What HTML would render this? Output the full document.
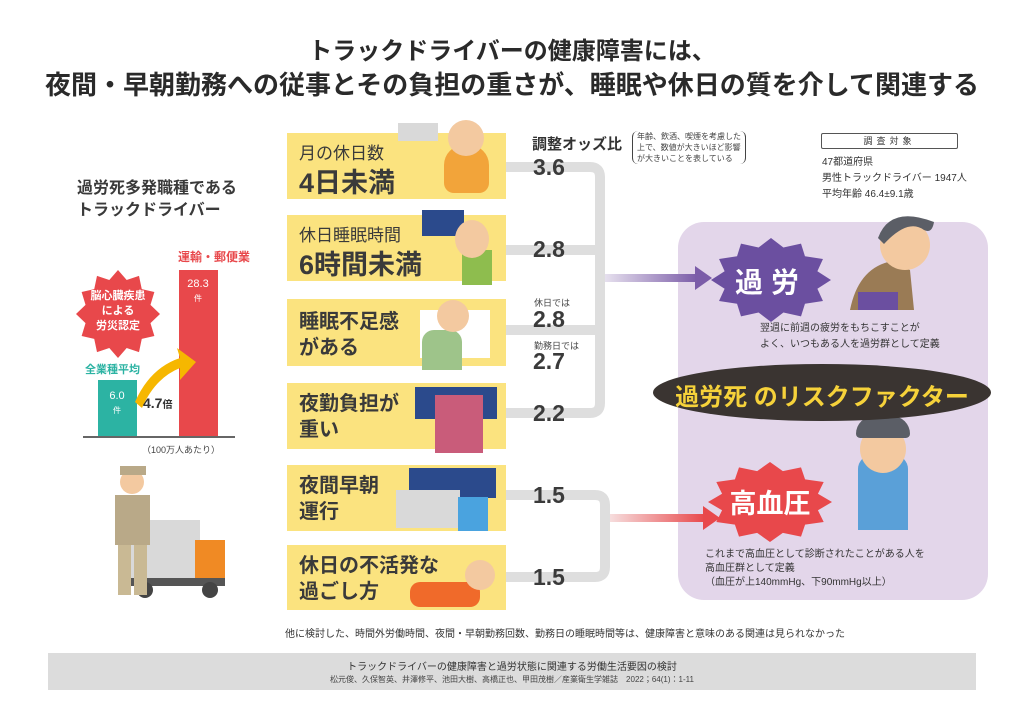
<!DOCTYPE html>
<html><head><meta charset="utf-8"><style>
*{margin:0;padding:0;box-sizing:border-box}
body{width:1024px;height:724px;background:#fff;position:relative;overflow:hidden;font-family:"Liberation Sans","Noto Sans CJK JP",sans-serif;color:#333}
.a{position:absolute;white-space:nowrap}
.b{font-weight:bold}
.yb{position:absolute;left:287px;width:219px;background:#fbe37f}
.yb div{position:absolute;left:12px;font-weight:bold;color:#3a3a3a}
.num{position:absolute;left:533px;font-weight:bold;font-size:23px;color:#3a3a3a;line-height:1}
.sm{position:absolute;left:534px;font-size:9px;color:#444}
</style></head><body>
<svg width="0" height="0" style="position:absolute"><defs>
<polygon id="st" points="1,0 .773,.207 .866,.5 .566,.566 .5,.866 .207,.773 0,1 -.207,.773 -.5,.866 -.566,.566 -.866,.5 -.773,.207 -1,0 -.773,-.207 -.866,-.5 -.566,-.566 -.5,-.866 -.207,-.773 0,-1 .207,-.773 .5,-.866 .566,-.566 .866,-.5 .773,-.207"/>
</defs></svg>
<div class="a b" style="left:0;width:1024px;text-align:center;top:31px;font-size:24px;color:#2a2a2a">トラックドライバーの健康障害には、</div>
<div class="a b" style="left:0;width:1024px;text-align:center;top:65px;font-size:26px;color:#2a2a2a">夜間・早朝勤務への従事とその負担の重さが、睡眠や休日の質を介して関連する</div>

<!-- left chart -->
<div class="a b" style="left:77px;top:178px;font-size:16px;line-height:22px;color:#3a3a3a">過労死多発職種である<br>トラックドライバー</div>
<svg class="a" style="left:40px;top:240px" width="240" height="220">
<use href="#st" fill="#e8484b" transform="translate(78,74) scale(42,44)"/>
<text x="78" y="59" text-anchor="middle" fill="#fff" font-size="11" font-weight="bold">脳心臓疾患</text>
<text x="78" y="74" text-anchor="middle" fill="#fff" font-size="11" font-weight="bold">による</text>
<text x="78" y="89" text-anchor="middle" fill="#fff" font-size="11" font-weight="bold">労災認定</text>
<rect x="58" y="140" width="39" height="56" fill="#2cb3a3"/>
<rect x="139" y="30" width="39" height="166" fill="#e8484b"/>
<line x1="43" y1="197" x2="195" y2="197" stroke="#333" stroke-width="1.5"/>
<path d="M95,162 Q110,128 140,118 L137,108 L156,122 L140,140 L140,128 Q115,138 102,168 Z" fill="#f6b700"/>
<text x="77" y="159" text-anchor="middle" fill="#fff" font-size="11">6.0</text>
<text x="77" y="173" text-anchor="middle" fill="#fff" font-size="8">件</text>
<text x="158" y="47" text-anchor="middle" fill="#fff" font-size="11">28.3</text>
<text x="158" y="61" text-anchor="middle" fill="#fff" font-size="8">件</text>
<text x="103" y="168" fill="#333" font-size="14" font-weight="bold">4.7<tspan font-size="10">倍</tspan></text>
<text x="45" y="133" fill="#2cb3a3" font-size="11" font-weight="bold">全業種平均</text>
<text x="138" y="21" fill="#e8484b" font-size="12" font-weight="bold">運輸・郵便業</text>
<text x="102" y="213" fill="#444" font-size="9">（100万人あたり）</text>
</svg>
<!-- truck + man -->
<svg class="a" style="left:100px;top:460px" width="130" height="150">
<rect x="30" y="60" width="70" height="60" fill="#d9d9d9"/>
<rect x="95" y="80" width="30" height="40" fill="#f08a24"/>
<rect x="30" y="118" width="95" height="8" fill="#555"/>
<circle cx="45" cy="130" r="8" fill="#444"/><circle cx="110" cy="130" r="8" fill="#444"/>
<rect x="15" y="35" width="35" height="50" fill="#b9a988"/>
<circle cx="32" cy="22" r="12" fill="#f3c9a0"/>
<rect x="20" y="6" width="26" height="9" fill="#b9a988"/>
<rect x="18" y="85" width="13" height="50" fill="#c9b994"/><rect x="34" y="85" width="13" height="50" fill="#c9b994"/>
</svg>

<!-- purple panel -->
<div class="a" style="left:678px;top:222px;width:310px;height:378px;background:#e3d6ea;border-radius:26px"></div>

<!-- connectors -->
<svg class="a" style="left:500px;top:150px" width="230" height="450">
<g fill="none" stroke="#dedede" stroke-width="10">
<path d="M6,17 H90 Q100,17 100,27 V253 Q100,263 90,263 H6"/>
<path d="M6,100 H100"/><path d="M6,180 H100"/>
<path d="M6,345 H95 Q105,345 105,355 V417 Q105,427 95,427 H6"/>
</g>
<defs><linearGradient id="gp"><stop offset="0" stop-color="#e6e0ee"/><stop offset="1" stop-color="#7b5ca8"/></linearGradient>
<linearGradient id="gr"><stop offset="0" stop-color="#f6dddd"/><stop offset="1" stop-color="#e8484b"/></linearGradient></defs>
<rect x="105" y="124" width="92" height="8" fill="url(#gp)"/><polygon points="195,116 212,128 195,140" fill="#7b5ca8"/>
<rect x="110" y="364" width="95" height="8" fill="url(#gr)"/><polygon points="203,356 220,368 203,380" fill="#e8484b"/>
</svg>

<svg class="a" style="left:678px;top:200px" width="320" height="360">
<use href="#st" fill="#6b4fa0" transform="translate(93,80) scale(60,42)"/>
<text x="93" y="92" text-anchor="middle" fill="#fff" font-size="28" font-weight="bold" letter-spacing="8">過労</text>
<path d="M172,110 Q180,70 210,62 L232,70 L236,110 Z" fill="#9a7b55"/>
<rect x="180" y="92" width="40" height="18" fill="#6b4fa0"/>
<circle cx="227" cy="45" r="25" fill="#f3c9a0"/>
<path d="M200,38 Q212,5 256,22 Q254,34 246,30 Q230,18 206,44Z" fill="#5b5e66"/>
<use href="#st" fill="#e8484b" transform="translate(92,302) scale(62,40)"/>
<text x="92" y="313" text-anchor="middle" fill="#fff" font-size="27" font-weight="bold">高血圧</text>
</svg>
<div class="a" style="left:858px;top:455px;width:50px;height:75px;background:#5aa0d8;border-radius:14px 14px 0 0"></div>
<div class="a" style="left:860px;top:425px;width:46px;height:48px;background:#f3c9a0;border-radius:50%"></div>
<div class="a" style="left:856px;top:416px;width:54px;height:22px;background:#5b5e66;border-radius:26px 26px 6px 6px"></div>
<div class="a" style="left:760px;top:321px;font-size:10px;line-height:16px;color:#333">翌週に前週の疲労をもちこすことが<br>よく、いつもある人を過労群として定義</div>
<div class="a" style="left:705px;top:548px;font-size:10px;line-height:14px;color:#333">これまで高血圧として診断されたことがある人を<br>高血圧群として定義<br>（血圧が上140mmHg、下90mmHg以上）</div>
<div class="a" style="left:653px;top:364px;width:338px;height:57px;background:#3a3431;border-radius:50%"></div>
<div class="a b" style="left:653px;top:377px;width:338px;text-align:center;font-size:24px;color:#f6d23a">過労死 のリスクファクター</div>

<!-- yellow boxes -->
<div class="yb" style="top:133px;height:66px"><div style="top:6px;font-size:17px;font-weight:normal">月の休日数</div><div style="top:28px;font-size:27px">4日未満</div></div>
<div class="yb" style="top:215px;height:66px"><div style="top:6px;font-size:17px;font-weight:normal">休日睡眠時間</div><div style="top:28px;font-size:27px">6時間未満</div></div>
<div class="yb" style="top:299px;height:67px"><div style="top:10px;font-size:20px;line-height:26px">睡眠不足感<br>がある</div></div>
<div class="yb" style="top:383px;height:66px"><div style="top:8px;font-size:20px;line-height:26px">夜勤負担が<br>重い</div></div>
<div class="yb" style="top:465px;height:66px"><div style="top:8px;font-size:20px;line-height:26px">夜間早朝<br>運行</div></div>
<div class="yb" style="top:545px;height:65px"><div style="top:8px;font-size:20px;line-height:26px">休日の不活発な<br>過ごし方</div></div>
<!-- illustrations simple -->
<div class="a" style="left:444px;top:145px;width:45px;height:48px;background:#f2a43a;border-radius:20px 20px 10px 10px"></div>
<div class="a" style="left:448px;top:120px;width:36px;height:36px;background:#f3c9a0;border-radius:50%"></div>
<div class="a" style="left:398px;top:123px;width:40px;height:18px;background:#d9d9d9"></div>
<div class="a" style="left:422px;top:210px;width:42px;height:26px;background:#2b4a8c"></div>
<div class="a" style="left:462px;top:250px;width:30px;height:35px;background:#8ebd4e"></div>
<div class="a" style="left:455px;top:220px;width:34px;height:38px;background:#f3c9a0;border-radius:50%"></div>
<div class="a" style="left:420px;top:310px;width:70px;height:48px;background:#fff"></div>
<div class="a" style="left:422px;top:330px;width:40px;height:40px;background:#9ec48a;border-radius:12px 12px 0 0"></div>
<div class="a" style="left:437px;top:300px;width:32px;height:32px;background:#f3c9a0;border-radius:50%"></div>
<div class="a" style="left:415px;top:387px;width:82px;height:32px;background:#2b4a8c"></div>
<div class="a" style="left:435px;top:395px;width:48px;height:58px;background:#c95c7a"></div>
<div class="a" style="left:409px;top:468px;width:87px;height:30px;background:#2b4a8c"></div>
<div class="a" style="left:396px;top:490px;width:64px;height:38px;background:#d9d9d9"></div>
<div class="a" style="left:458px;top:497px;width:30px;height:34px;background:#4aa3df"></div>
<div class="a" style="left:410px;top:582px;width:70px;height:25px;background:#f06a2a;border-radius:10px"></div>
<div class="a" style="left:465px;top:560px;width:30px;height:30px;background:#f3c9a0;border-radius:50%"></div>

<!-- numbers -->
<div class="a b" style="left:532px;top:133px;font-size:15px;color:#333">調整オッズ比</div>
<div class="a" style="left:632px;top:131px;font-size:8px;line-height:11px;color:#444;border-left:1.5px solid #444;border-right:1.5px solid #444;border-radius:6px;padding:0 4px">年齢、飲酒、喫煙を考慮した<br>上で、数値が大きいほど影響<br>が大きいことを表している</div>
<div class="num" style="top:156px">3.6</div>
<div class="num" style="top:238px">2.8</div>
<div class="sm" style="top:296px">休日では</div>
<div class="num" style="top:308px">2.8</div>
<div class="sm" style="top:339px">勤務日では</div>
<div class="num" style="top:350px">2.7</div>
<div class="num" style="top:402px">2.2</div>
<div class="num" style="top:484px">1.5</div>
<div class="num" style="top:566px">1.5</div>

<!-- survey -->
<div class="a" style="left:821px;top:133px;width:137px;height:16px;border:1px solid #555;border-radius:2px;font-size:9px;text-align:center;line-height:14px;letter-spacing:4px">調査対象</div>
<div class="a" style="left:822px;top:155px;font-size:10px;line-height:16px;color:#333">47都道府県<br>男性トラックドライバー 1947人<br>平均年齢 46.4±9.1歳</div>

<div class="a" style="left:285px;top:625px;font-size:10px;color:#333">他に検討した、時間外労働時間、夜間・早朝勤務回数、勤務日の睡眠時間等は、健康障害と意味のある関連は見られなかった</div>
<div class="a" style="left:48px;top:653px;width:928px;height:37px;background:#dcdcdc"></div>
<div class="a" style="left:48px;top:658px;width:928px;text-align:center;font-size:10px;color:#333">トラックドライバーの健康障害と過労状態に関連する労働生活要因の検討</div>
<div class="a" style="left:48px;top:674px;width:928px;text-align:center;font-size:8px;color:#444">松元俊、久保智英、井澤修平、池田大樹、高橋正也、甲田茂樹／産業衛生学雑誌　2022；64(1)：1-11</div>
</body></html>
